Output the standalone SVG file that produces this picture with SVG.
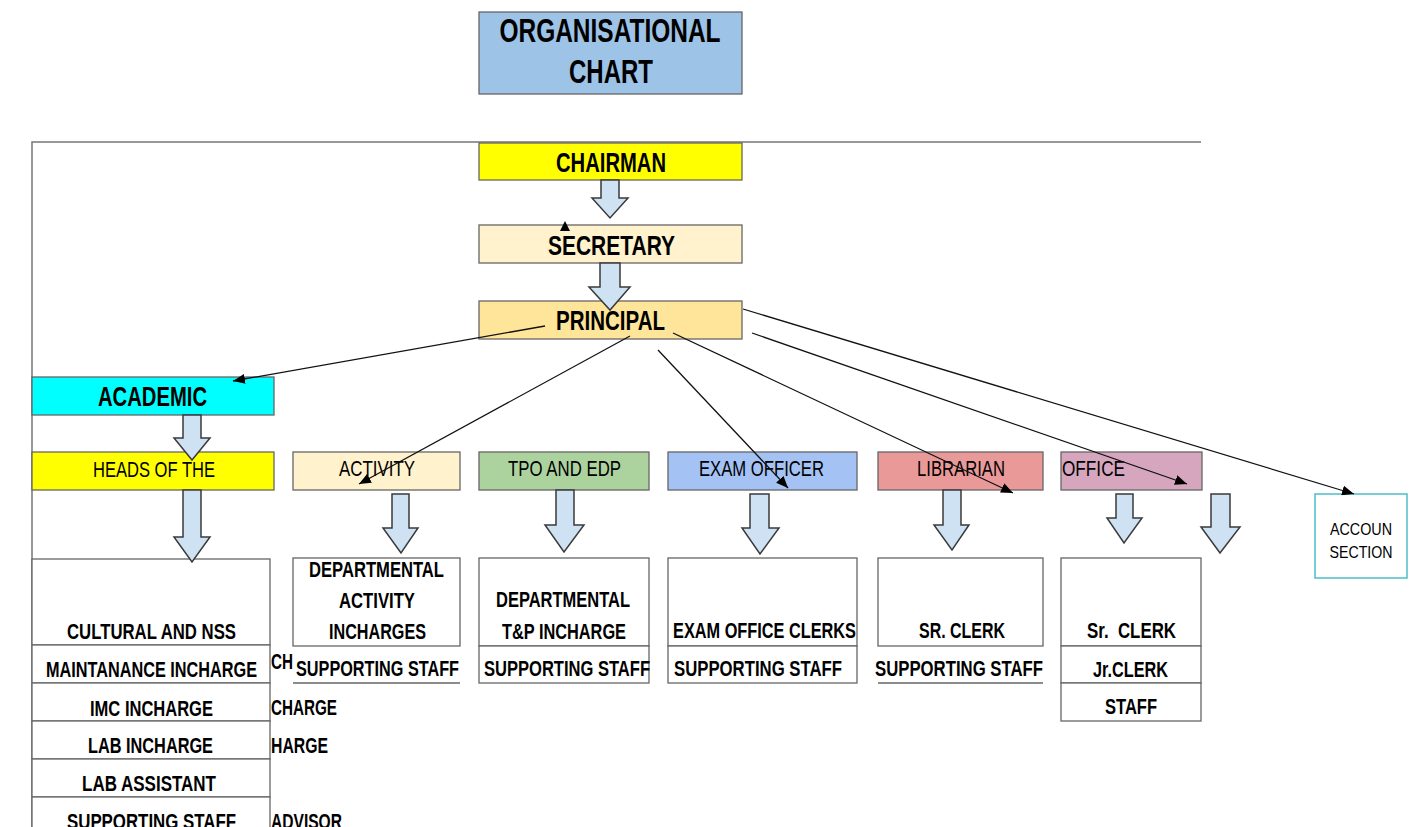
<svg xmlns="http://www.w3.org/2000/svg" width="1414" height="827" viewBox="0 0 1414 827">
<defs>
<style>
text{font-family:'Liberation Sans Narrow','Liberation Sans',Arial,sans-serif;fill:#000}
.box{stroke:#666;stroke-width:1.3}
.t0{font-size:34px;font-weight:bold;text-anchor:middle}
.t1{font-size:28px;font-weight:bold;text-anchor:middle}
.t2{font-size:22px;text-anchor:middle}
.t3{font-size:22px;font-weight:bold;text-anchor:middle}
.t4{font-size:22px;text-anchor:middle}
.t5{font-size:17px;text-anchor:middle}
.frag{font-size:22px;font-weight:bold}
.barrow{fill:#cfe2f3;stroke:#3a3a3a;stroke-width:1.5}
.ln{stroke:#111;stroke-width:1.3;fill:none;marker-end:url(#ah)}
.edge{stroke:#777;stroke-width:1.5;fill:none}
</style>
<marker id="ah" viewBox="0 0 12 10" refX="12" refY="5" markerWidth="12" markerHeight="10" markerUnits="userSpaceOnUse" orient="auto">
<path d="M0,0 L12,5 L0,10 z" fill="#000"/>
</marker>
</defs>
<rect width="1414" height="827" fill="#fff"/>

<g id="frame">
<path class="edge" d="M32,827 V142 H1201"/>
</g>

<g id="title">
<rect class="box" x="479" y="12" width="263" height="82" fill="#9dc3e6"/>
<text class="t0" x="610" y="42" textLength="221" lengthAdjust="spacingAndGlyphs">ORGANISATIONAL</text>
<text class="t0" x="611" y="83" textLength="84" lengthAdjust="spacingAndGlyphs">CHART</text>
</g>

<g id="chairman">
<rect class="box" x="479" y="143" width="263" height="37" fill="#ffff00"/>
<text class="t1" x="611" y="172" textLength="110" lengthAdjust="spacingAndGlyphs">CHAIRMAN</text>
</g>

<g id="secretary">
<rect class="box" x="479" y="225" width="263" height="38" fill="#fff2cc"/>
<text class="t1" x="611.5" y="255" textLength="127" lengthAdjust="spacingAndGlyphs">SECRETARY</text>
<path d="M565,221 L560,231 L570,231 Z" fill="#000"/>
</g>

<g id="principal">
<rect class="box" x="479" y="301" width="263" height="38" fill="#ffe599"/>
<text class="t1" x="610.5" y="330" textLength="109" lengthAdjust="spacingAndGlyphs">PRINCIPAL</text>
</g>

<g id="academic">
<rect class="box" x="32" y="377" width="242" height="38" fill="#00ffff"/>
<text class="t1" x="152.5" y="406" textLength="109" lengthAdjust="spacingAndGlyphs">ACADEMIC</text>
</g>

<g id="heads">
<rect class="box" x="32" y="452" width="242" height="38" fill="#ffff00"/>
<text class="t2" x="154" y="477" textLength="122" lengthAdjust="spacingAndGlyphs">HEADS OF THE</text>
</g>

<g id="hidden-fragments">
<text class="frag" x="271" y="669" textLength="22" lengthAdjust="spacingAndGlyphs">CH</text>
<text class="frag" x="271" y="715" textLength="66" lengthAdjust="spacingAndGlyphs">CHARGE</text>
<text class="frag" x="271" y="753" textLength="57" lengthAdjust="spacingAndGlyphs">HARGE</text>
<text class="frag" x="271" y="829" textLength="71" lengthAdjust="spacingAndGlyphs">ADVISOR</text>
</g>

<g id="academic-staff">
<rect class="box" x="32" y="559" width="238" height="86" fill="#fff"/>
<rect class="box" x="32" y="645" width="238" height="38" fill="#fff"/>
<rect class="box" x="32" y="683" width="238" height="38" fill="#fff"/>
<rect class="box" x="32" y="721" width="238" height="38" fill="#fff"/>
<rect class="box" x="32" y="759" width="238" height="38" fill="#fff"/>
<rect class="box" x="32" y="797" width="238" height="40" fill="#fff"/>
<text class="t3" x="151.5" y="639" textLength="169" lengthAdjust="spacingAndGlyphs">CULTURAL AND NSS</text>
<text class="t3" x="151.5" y="677" textLength="211" lengthAdjust="spacingAndGlyphs">MAINTANANCE INCHARGE</text>
<text class="t3" x="151.5" y="716" textLength="123" lengthAdjust="spacingAndGlyphs">IMC INCHARGE</text>
<text class="t3" x="150.5" y="753" textLength="125" lengthAdjust="spacingAndGlyphs">LAB INCHARGE</text>
<text class="t3" x="149" y="791" textLength="134" lengthAdjust="spacingAndGlyphs">LAB ASSISTANT</text>
<text class="t3" x="151.5" y="829" textLength="169" lengthAdjust="spacingAndGlyphs">SUPPORTING STAFF</text>
</g>

<g id="activity">
<rect class="box" x="293" y="452" width="167" height="38" fill="#fff2cc"/>
<text class="t4" x="377" y="476" textLength="76" lengthAdjust="spacingAndGlyphs">ACTIVITY</text>
</g>
<g id="activity-staff">
<rect class="box" x="293" y="558" width="167" height="88" fill="#fff"/>
<text class="t3" x="376.5" y="577" textLength="135" lengthAdjust="spacingAndGlyphs">DEPARTMENTAL</text>
<text class="t3" x="377" y="608" textLength="76" lengthAdjust="spacingAndGlyphs">ACTIVITY</text>
<text class="t3" x="377.5" y="639" textLength="97" lengthAdjust="spacingAndGlyphs">INCHARGES</text>
<text class="t3" x="377.5" y="676" textLength="163" lengthAdjust="spacingAndGlyphs">SUPPORTING STAFF</text>
<line class="box" x1="293" y1="683" x2="460" y2="683"/>
</g>

<g id="tpo">
<rect class="box" x="479" y="452" width="170" height="38" fill="#acd39e"/>
<text class="t4" x="564.5" y="476" textLength="113" lengthAdjust="spacingAndGlyphs">TPO AND EDP</text>
</g>
<g id="tpo-staff">
<rect class="box" x="479" y="558" width="170" height="88" fill="#fff"/>
<rect class="box" x="479" y="646" width="170" height="37" fill="#fff"/>
<text class="t3" x="563" y="607" textLength="134" lengthAdjust="spacingAndGlyphs">DEPARTMENTAL</text>
<text class="t3" x="564" y="639" textLength="124" lengthAdjust="spacingAndGlyphs">T&amp;P INCHARGE</text>
<text class="t3" x="567" y="676" textLength="166" lengthAdjust="spacingAndGlyphs">SUPPORTING STAFF</text>
</g>

<g id="exam">
<rect class="box" x="668" y="452" width="189" height="38" fill="#a4c2f4"/>
<text class="t4" x="761.5" y="476" textLength="125" lengthAdjust="spacingAndGlyphs">EXAM OFFICER</text>
</g>
<g id="exam-staff">
<rect class="box" x="668" y="558" width="189" height="88" fill="#fff"/>
<rect class="box" x="668" y="646" width="189" height="37" fill="#fff"/>
<text class="t3" x="764.5" y="638" textLength="183" lengthAdjust="spacingAndGlyphs">EXAM OFFICE CLERKS</text>
<text class="t3" x="758" y="676" textLength="168" lengthAdjust="spacingAndGlyphs">SUPPORTING STAFF</text>
</g>

<g id="librarian">
<rect class="box" x="878" y="452" width="165" height="38" fill="#ea9999"/>
<text class="t4" x="961" y="476" textLength="88" lengthAdjust="spacingAndGlyphs">LIBRARIAN</text>
</g>
<g id="librarian-staff">
<rect class="box" x="878" y="558" width="165" height="88" fill="#fff"/>
<text class="t3" x="962" y="638" textLength="86" lengthAdjust="spacingAndGlyphs">SR. CLERK</text>
<text class="t3" x="959" y="676" textLength="168" lengthAdjust="spacingAndGlyphs">SUPPORTING STAFF</text>
<line class="box" x1="878" y1="683" x2="1043" y2="683"/>
</g>

<g id="office">
<rect class="box" x="1061" y="452" width="141" height="38" fill="#d5a6bd"/>
<text class="t4" x="1062" y="476" textLength="63" lengthAdjust="spacingAndGlyphs" style="text-anchor:start">OFFICE</text>
</g>
<g id="office-staff">
<rect class="box" x="1061" y="558" width="140" height="88" fill="#fff"/>
<rect class="box" x="1061" y="646" width="140" height="37" fill="#fff"/>
<rect class="box" x="1061" y="683" width="140" height="38" fill="#fff"/>
<text class="t3" x="1131.5" y="638" textLength="89" lengthAdjust="spacingAndGlyphs" style="white-space:pre">Sr.  CLERK</text>
<text class="t3" x="1130.5" y="677" textLength="75" lengthAdjust="spacingAndGlyphs">Jr.CLERK</text>
<text class="t3" x="1131" y="714" textLength="52" lengthAdjust="spacingAndGlyphs">STAFF</text>
</g>

<g id="accounts">
<rect x="1315" y="494" width="92" height="84" fill="#fff" stroke="#4bbfc8" stroke-width="1.5"/>
<text class="t5" x="1361" y="535" textLength="62" lengthAdjust="spacingAndGlyphs">ACCOUN</text>
<text class="t5" x="1361" y="558" textLength="63" lengthAdjust="spacingAndGlyphs">SECTION</text>
</g>

<g id="connectors">
<path class="barrow" d="M601,180 H619 V198 H628 L610,218 L592,198 H601 Z"/>
<path class="barrow" d="M600,263 H620 V287 H630 L610,310 L589,287 H600 Z"/>
<path class="barrow" d="M183,415 H201 V438 H210 L192,460 L174,438 H183 Z"/>
<path class="barrow" d="M183,490 H201 V537 H210 L192,562 L174,537 H183 Z"/>
<path class="barrow" d="M392,494 H409 V528 H418 L401,553 L383,528 H392 Z"/>
<path class="barrow" d="M556,490 H574 V525 H584 L564,552 L545,525 H556 Z"/>
<path class="barrow" d="M750,494 H769 V528 H779 L760,554 L742,528 H750 Z"/>
<path class="barrow" d="M943,490 H961 V525 H969 L952,550 L934,525 H943 Z"/>
<path class="barrow" d="M1116,494 H1133 V518 H1142 L1124,543 L1107,518 H1116 Z"/>
<path class="barrow" d="M1211,494 H1230 V527 H1240 L1220,553 L1201,527 H1211 Z"/>

<line class="ln" x1="545" y1="326" x2="233" y2="381"/>
<line class="ln" x1="630" y1="336" x2="359" y2="484"/>
<line class="ln" x1="658" y1="350" x2="788" y2="488"/>
<line class="ln" x1="673" y1="333" x2="1013" y2="493"/>
<line class="ln" x1="752" y1="333" x2="1187" y2="484"/>
<line class="ln" x1="743" y1="309" x2="1354" y2="494"/>
</g>
</svg>
